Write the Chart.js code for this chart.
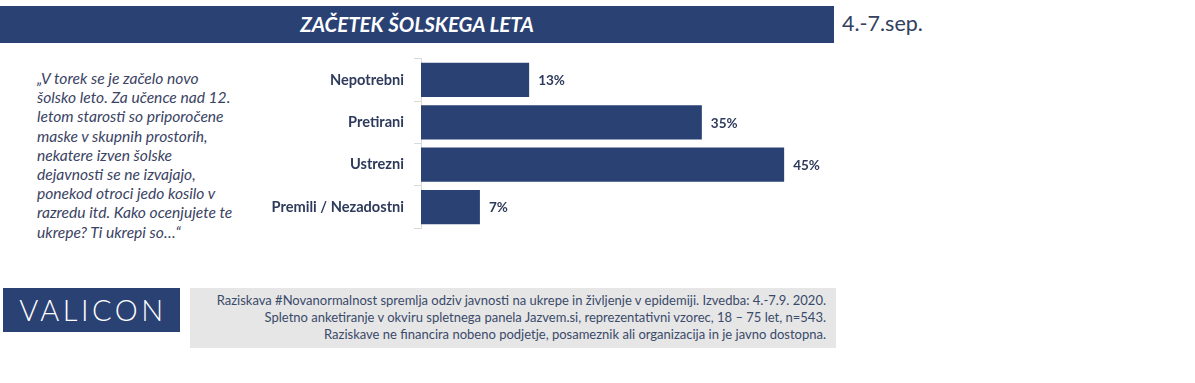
<!DOCTYPE html>
<html><head><meta charset="utf-8">
<script src="https://cdn.jsdelivr.net/npm/chart.js@4"></script>
<style>
html,body{margin:0;padding:0;background:#fff;width:1195px;height:383px;overflow:hidden;font-family:Lato,"Open Sans",sans-serif;}
#titlebar{position:absolute;left:0;top:6px;width:834px;height:37px;background:#2a4174;}
#title{position:absolute;left:0;top:6px;width:834px;height:37px;line-height:37px;text-align:center;color:#fff;font-weight:bold;font-style:italic;font-size:20.5px;letter-spacing:0px;}
#date{position:absolute;left:842px;top:10px;font-size:21.5px;color:#33415f;}
#quote{position:absolute;left:37px;top:69px;font-style:italic;font-size:15.6px;line-height:19.2px;color:#3a4363;white-space:pre;}
#chartwrap{position:absolute;left:240px;top:40px;width:600px;height:207px;}
#logo{position:absolute;left:3px;top:288px;width:177px;height:44px;background:#2a4174;color:#fff;font-size:29px;line-height:44px;text-align:center;letter-spacing:3.5px;font-weight:300;text-indent:3px;}
#foot{position:absolute;left:190px;top:288px;width:646px;height:60px;background:#e6e6e6;}
#foottxt{position:absolute;right:10px;top:4px;text-align:right;font-size:13px;line-height:17px;color:#3a4a6a;white-space:pre;}
</style></head>
<body>
<div id="titlebar"></div>
<div id="title">ZAČETEK ŠOLSKEGA LETA</div>
<div id="date">4.-7.sep.</div>
<div id="quote">„V torek se je začelo novo
šolsko leto. Za učence nad 12.
letom starosti so priporočene
maske v skupnih prostorih,
nekatere izven šolske
dejavnosti se ne izvajajo,
ponekod otroci jedo kosilo v
razredu itd. Kako ocenjujete te
ukrepe? Ti ukrepi so…“</div>
<div id="chartwrap"><canvas id="c" width="600" height="207"></canvas></div>
<div id="logo">VALICON</div>
<div id="foot"><div id="foottxt">Raziskava #Novanormalnost spremlja odziv javnosti na ukrepe in življenje v epidemiji. Izvedba: 4.-7.9. 2020.
Spletno anketiranje v okviru spletnega panela Jazvem.si, reprezentativni vzorec, 18 – 75 let, n=543.
Raziskave ne financira nobeno podjetje, posameznik ali organizacija in je javno dostopna.</div></div>
<script>
const categories = ["Nepotrebni", "Pretirani", "Ustrezni", "Premili / Nezadostni"];
const values = [13.4, 34.8, 45.0, 7.3];
const valueLabels = ["13%", "35%", "45%", "7%"];

const barColor = "#2a4174";

const labelPlugin = {
  id: "valueLabels",
  afterDatasetsDraw(chart) {
    const ctx = chart.ctx;
    const meta = chart.getDatasetMeta(0);
    ctx.save();
    ctx.font = "bold 13.5px Lato, 'Open Sans', sans-serif";
    ctx.fillStyle = "#2e3a5c";
    ctx.textAlign = "left";
    ctx.textBaseline = "middle";
    meta.data.forEach((bar, i) => {
      ctx.fillText(valueLabels[i], bar.x + 9, bar.y + 1);
    });
    ctx.restore();
  }
};

new Chart(document.getElementById("c"), {
  type: "bar",
  data: {
    labels: categories,
    datasets: [{
      data: values,
      backgroundColor: barColor,
      borderWidth: 0,
      categoryPercentage: 1.0,
      barPercentage: 0.81
    }]
  },
  options: {
    indexAxis: "y",
    responsive: false,
    animation: false,
    layout: { padding: { left: 0, right: 15.5, top: 0, bottom: 0 } },
    plugins: { legend: { display: false }, tooltip: { enabled: false } },
    scales: {
      x: { display: false, min: 0, max: 50 },
      y: {
        afterFit(scale) { scale.width = 181; },
        grid: { display: true, offset: true, drawOnChartArea: false, tickLength: 7, color: "#d9d9d9" },
        border: { display: true, color: "#d9d9d9", width: 1 },
        ticks: {
          padding: 10,
          color: "#2e3a5c",
          font: { family: "Lato, 'Open Sans', sans-serif", size: 14.6, weight: "bold" }
        }
      }
    }
  },
  plugins: [labelPlugin]
});
</script>
</body></html>
